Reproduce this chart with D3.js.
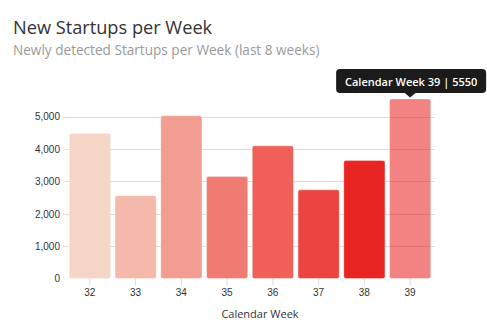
<!DOCTYPE html>
<html>
<head>
<meta charset="utf-8">
<script src="https://cdn.jsdelivr.net/npm/d3@7"></script>
<style>
  body { margin: 0; background: #fff; font-family: "Open Sans", "Noto Sans", sans-serif; }
  #chart { width: 487px; height: 331px; }
  .grid line { stroke: #dcdcdc; stroke-width: 1; }
  .tick text { fill: #333; font-size: 10px; }
</style>
</head>
<body>
<div id="chart"></div>
<script>
// weekly counts of newly detected startups
const weeks = ["32", "33", "34", "35", "36", "37", "38", "39"];
const counts = [4480, 2560, 5030, 3150, 4100, 2740, 3650, 5550];
const barColors = ["#f5d6c6", "#f4b9aa", "#f19d92", "#f07b73", "#ef6059", "#eb4441", "#e82523", "#e70707"];
const yTicks = [0, 1000, 2000, 3000, 4000, 5000];

const data = weeks.map((w, i) => ({ week: w, count: counts[i], color: barColors[i] }));
const hovered = "39";

const width = 487, height = 331;
const margin = { top: 100, right: 54, bottom: 52, left: 67 };

const svg = d3.select("#chart")
    .append("svg")
    .attr("width", width)
    .attr("height", height);

// title + subtitle
svg.append("text")
    .attr("x", 13)
    .attr("y", 33.5)
    .attr("font-size", "18.2px")
    .attr("fill", "#333")
    .text("New Startups per Week");

svg.append("text")
    .attr("x", 13)
    .attr("y", 55)
    .attr("font-size", "13.6px")
    .attr("fill", "#9a9a9a")
    .text("Newly detected Startups per Week (last 8 weeks)");

const x = d3.scaleBand()
    .domain(weeks)
    .range([margin.left, width - margin.right])
    .paddingInner(0.1)
    .paddingOuter(0.05);

const y = d3.scaleLinear()
    .domain([0, 5000])
    .range([278.5, 116.75]);

// horizontal grid lines (no line at zero)
svg.append("g")
    .attr("class", "grid")
    .selectAll("line")
    .data(yTicks.filter(d => d > 0))
    .enter().append("line")
    .attr("x1", 65)
    .attr("x2", 435)
    .attr("y1", d => Math.round(y(d)) + 0.5)
    .attr("y2", d => Math.round(y(d)) + 0.5);

// y axis labels
const yAxis = svg.append("g")
    .attr("transform", "translate(65,0)")
    .call(d3.axisLeft(y).tickValues(yTicks).tickSize(2).tickPadding(3).tickFormat(d3.format(",")));
yAxis.select(".domain").remove();
yAxis.selectAll(".tick line").attr("stroke", "#e6e6e6");

// x axis
const xAxis = svg.append("g")
    .attr("transform", "translate(0,278.5)")
    .call(d3.axisBottom(x).tickSize(7).tickPadding(3));
xAxis.select(".domain").remove();
xAxis.selectAll(".tick line").attr("stroke", "#dcdcdc");

svg.append("text")
    .attr("x", 260)
    .attr("y", 318)
    .attr("text-anchor", "middle")
    .attr("font-size", "11px")
    .attr("fill", "#333")
    .text("Calendar Week");

// bars
svg.append("g")
    .selectAll("rect")
    .data(data)
    .enter().append("rect")
    .attr("x", d => x(d.week))
    .attr("y", d => y(d.count))
    .attr("width", x.bandwidth())
    .attr("height", d => y(0) - y(d.count))
    .attr("rx", 2)
    .attr("fill", d => d.color)
    .attr("fill-opacity", d => d.week === hovered ? 0.5 : 1)
    .attr("stroke", "#fff")
    .attr("stroke-opacity", 0.35)
    .attr("stroke-width", 1);

// tooltip over the hovered bar
const hv = data.find(d => d.week === hovered);
const tipX = x(hv.week) + x.bandwidth() / 2;
const tipY = y(hv.count);
const tip = svg.append("g").attr("transform", `translate(${tipX},${tipY})`);
const tipText = `Calendar Week ${hv.week} | ${hv.count}`;

tip.append("rect")
    .attr("x", -74)
    .attr("y", -30)
    .attr("width", 150)
    .attr("height", 24)
    .attr("rx", 4)
    .attr("fill", "#1b1b1b");

tip.append("path")
    .attr("d", "M-6,-6.5L0,-1.5L6,-6.5Z")
    .attr("fill", "#1b1b1b");

tip.append("text")
    .attr("x", 1)
    .attr("y", -13)
    .attr("text-anchor", "middle")
    .attr("font-size", "11px")
    .attr("font-weight", 600)
    .attr("fill", "#fff")
    .text(tipText);
</script>
</body>
</html>
